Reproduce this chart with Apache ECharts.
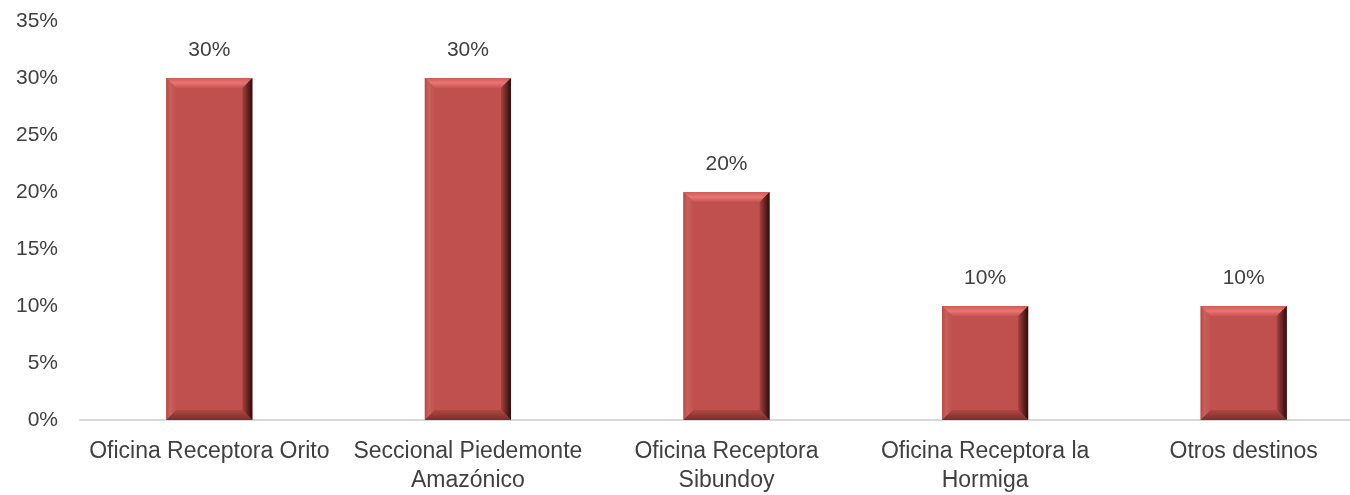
<!DOCTYPE html>
<html>
<head>
<meta charset="utf-8">
<script src="https://cdn.jsdelivr.net/npm/echarts@6/dist/echarts.min.js"></script>
<style>
html,body{margin:0;padding:0;background:#fff;overflow:hidden;width:1350px;height:495px;}
#chart{width:1373px;height:495px;}
</style>
</head>
<body>
<div id="chart"></div>
<script>
const categories = ["Oficina Receptora Orito", "Seccional Piedemonte\nAmazónico", "Oficina Receptora\nSibundoy", "Oficina Receptora la\nHormiga", "Otros destinos"];
const values = [30, 30, 20, 10, 10];
const yTicks = [0, 5, 10, 15, 20, 25, 30, 35];

const FONT = '"Liberation Sans", Arial, sans-serif';
const TEXT = '#404040';

const chart = echarts.init(document.getElementById('chart'), null, {renderer: 'canvas'});

function renderBar(params, api) {
  const idx = api.value(0);
  const val = api.value(1);
  const top = api.coord([idx, val]);
  const base = api.coord([idx, 0]);
  const bw = api.size([1, 0])[0] * 0.333;
  const x0 = top[0] - bw / 2, x1 = top[0] + bw / 2;
  const y0 = top[1], y1 = base[1];
  const b = 10;
  return {
    type: 'group',
    children: [
      {type: 'rect', shape: {x: x0, y: y0, width: bw, height: y1 - y0}, style: {fill: '#C0504D'}},
      {type: 'polygon', shape: {points: [[x0, y0], [x1, y0], [x1 - b, y0 + b], [x0 + b, y0 + b]]},
        style: {fill: new echarts.graphic.LinearGradient(0, 0, 0, 1, [
          {offset: 0, color: '#cf5c59'}, {offset: 0.5, color: '#ea7572'}, {offset: 1, color: '#c85552'}])}},
      {type: 'polygon', shape: {points: [[x0, y0], [x0 + b, y0 + b], [x0 + b, y1 - b], [x0, y1]]},
        style: {fill: new echarts.graphic.LinearGradient(0, 0, 1, 0, [
          {offset: 0, color: '#b84a47'}, {offset: 0.4, color: '#c9605d'}, {offset: 1, color: '#c0504d'}])}},
      {type: 'polygon', shape: {points: [[x1, y0], [x1, y1], [x1 - b, y1 - b], [x1 - b, y0 + b]]},
        style: {fill: new echarts.graphic.LinearGradient(0, 0, 1, 0, [
          {offset: 0, color: '#a8423f'}, {offset: 0.5, color: '#6a2624'}, {offset: 1, color: '#2a0d0c'}])}},
      {type: 'polygon', shape: {points: [[x0, y1], [x0 + b, y1 - b], [x1 - b, y1 - b], [x1, y1]]},
        style: {fill: new echarts.graphic.LinearGradient(0, 0, 0, 1, [
          {offset: 0, color: '#b04744'}, {offset: 1, color: '#7a2d2a'}])}},
      {type: 'text', x: top[0], y: y0 - 17,
        style: {text: val + '%', fill: TEXT, font: '21px ' + FONT, align: 'center', verticalAlign: 'bottom'}}
    ]
  };
}

chart.setOption({
  animation: false,
  backgroundColor: '#ffffff',
  grid: {left: 80, right: 0, top: 21, bottom: 73, containLabel: false},
  xAxis: {
    type: 'category',
    data: categories,
    axisLine: {show: true, lineStyle: {color: '#d9d9d9', width: 2}},
    axisTick: {show: false},
    axisLabel: {interval: 0, color: TEXT, fontFamily: FONT, fontSize: 23, lineHeight: 29, margin: 17}
  },
  yAxis: {
    type: 'value',
    min: yTicks[0],
    max: yTicks[yTicks.length - 1],
    interval: 5,
    axisLine: {show: false},
    axisTick: {show: false},
    splitLine: {show: false},
    axisLabel: {color: TEXT, fontFamily: FONT, fontSize: 21, margin: 22, formatter: '{value}%'}
  },
  series: [{
    type: 'custom',
    renderItem: renderBar,
    data: values.map((v, i) => [i, v]),
    encode: {x: 0, y: 1}
  }]
});
</script>
</body>
</html>
